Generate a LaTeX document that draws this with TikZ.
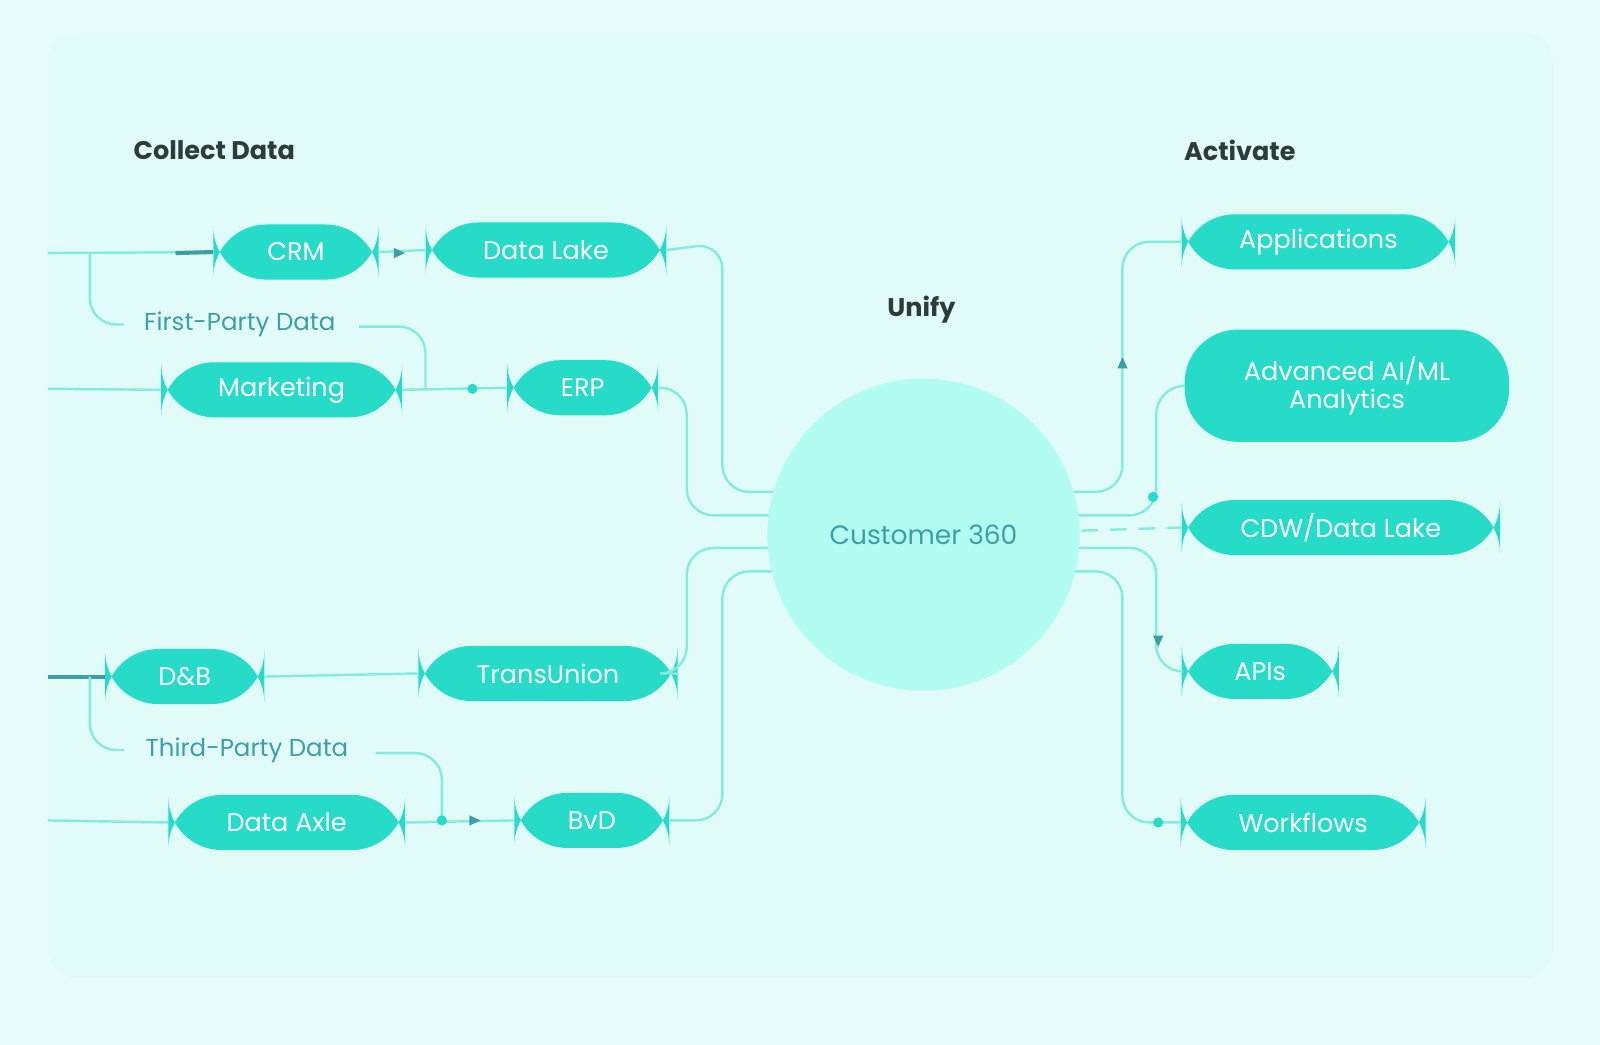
\documentclass[tikz,border=0pt]{standalone}
\usepackage{fontspec}
\setmainfont{Poppins}
\usetikzlibrary{positioning}
\definecolor{pill}{HTML}{26DCC8}
\definecolor{wire}{HTML}{86EBDF}
\definecolor{deep}{HTML}{3E9FA3}
\definecolor{bgout}{HTML}{E6FDFB}
\definecolor{bgin}{HTML}{E1FBF8}
\definecolor{hubfill}{HTML}{B3FCF2}
\definecolor{title}{HTML}{2E3A3C}
\tikzset{
  pillbox/.style={rounded corners=26pt, fill=pill, text=white, minimum height=27pt,
                  font=\fontsize{12.5}{14}\selectfont, inner sep=0pt},
  link/.style={draw=wire, line width=1.2pt, rounded corners=13pt},
  heading/.style={text=title, font=\bfseries\fontsize{12.5}{14}\selectfont},
  group/.style={text=deep, font=\fontsize{12}{14}\selectfont},
  stub/.style={draw=deep, line width=2pt},
  dot/.style={circle, fill=pill, inner sep=0pt, minimum size=5pt},
}
\begin{document}
\begin{tikzpicture}[x=0.5pt,y=-0.5pt]
    % backdrop
    \fill[bgout] (0,0) rectangle (1568,1024);
    \useasboundingbox (0,0) rectangle (1568,1024);
    \fill[bgin, rounded corners=14pt] (47,32) rectangle (1522,958);

    % headings
    \node[heading] (collect) at (210,147) {Collect Data};
    \node[heading] (activate) at (1215,147) {Activate};
    \node[heading] (unify) at (903,303) {Unify};
    \node[group] (first) at (235,318) {First-Party Data};
    \node[group] (third) at (242,735) {Third-Party Data};

    % sources
    \node[pillbox, minimum width=81pt] (crm) at (290,247) {CRM};
    \node[pillbox, minimum width=118pt] (lake) at (535,245) {Data Lake};
    \node[pillbox, minimum width=118pt] (mkt) at (276,382) {Marketing};
    \node[pillbox, minimum width=74pt] (erp) at (571,380) {ERP};
    \node[pillbox, minimum width=78pt] (dnb) at (181,663) {D\&B};
    \node[pillbox, minimum width=127pt] (tu) at (537,660) {TransUnion};
    \node[pillbox, minimum width=116pt] (axle) at (281,806) {Data Axle};
    \node[pillbox, minimum width=76pt] (bvd) at (580,804) {BvD};

    % targets
    \node[pillbox, minimum width=134pt] (apps) at (1292,237) {Applications};
    \node[pillbox, minimum width=159pt, minimum height=55pt, align=center] (aiml) at (1320,378)
        {Advanced AI/ML\\Analytics};
    \node[pillbox, minimum width=156pt] (cdw) at (1314,517) {CDW/Data Lake};
    \node[pillbox, minimum width=77pt] (apis) at (1235,658) {APIs};
    \node[pillbox, minimum width=120pt] (flows) at (1277,806) {Workflows};

    % collect side
    \coordinate (crmin) at (47,248);
    \coordinate (mktin) at (47,381);
    \coordinate (dnbin) at (47,663);
    \coordinate (axlein) at (47,804);
    \draw[link] (crmin) -- (crm.west);
    \draw[stub] (172,248) -- (crm.west);
    \draw[link] (88,248) -- (88,318) -- (122,318);
    \draw[link] (352,320) -- (417,320) -- (417,381);
    \draw[link] (crm.east) -- (lake.west);
    \draw[link] (mktin) -- (mkt.west);
    \draw[link] (mkt.east) -- (erp.west);
    \node[dot] (d1) at (463,381) {};
    \fill[deep] (386,243) -- (397,248) -- (386,253) -- cycle;

    \draw[link] (dnbin) -- (dnb.west);
    \draw[stub] (dnbin) -- (dnb.west);
    \draw[link] (88,663) -- (88,735) -- (122,735);
    \draw[link] (dnb.east) -- (tu.west);
    \draw[link] (368,738) -- (433,738) -- (433,805);
    \draw[link] (axlein) -- (axle.west);
    \draw[link] (axle.east) -- (bvd.west);
    \node[dot] (d2) at (433,804) {};
    \fill[deep] (460,799) -- (471,804) -- (460,809) -- cycle;

    % into the hub
    \draw[link] (lake.east) -- (708,238) -- (708,482) -- (800,482);
    \draw[link] (erp.east) -- (673,380) -- (673,505) -- (800,505);
    \draw[link] (tu.east) -- (673,660) -- (673,537) -- (800,537);
    \draw[link] (bvd.east) -- (708,804) -- (708,560) -- (800,560);

    % out of the hub
    \draw[link] (1000,482) -- (1100,482) -- (1100,237) -- (apps.west);
    \draw[link] (1000,505) -- (1133,505) -- (1133,380) -- (aiml.west);
    \draw[link, dashed, dash pattern=on 8pt off 6pt, rounded corners=0pt] (1060,520) -- (cdw.west);
    \draw[link] (1000,537) -- (1133,537) -- (1133,658) -- (apis.west);
    \draw[link] (1000,560) -- (1100,560) -- (1100,806) -- (flows.west);
    \fill[deep] (1095,361) -- (1100,350) -- (1105,361) -- cycle;
    \fill[deep] (1130,623) -- (1135,634) -- (1140,623) -- cycle;
    \node[dot] (d3) at (1130,487) {};
    \node[dot] (d4) at (1135,806) {};

    % hub
    \node[circle, fill=hubfill, minimum size=153pt, text=deep,
          font=\fontsize{13}{15}\selectfont] (hub) at (905,524) {Customer 360};
\end{tikzpicture}
\end{document}
